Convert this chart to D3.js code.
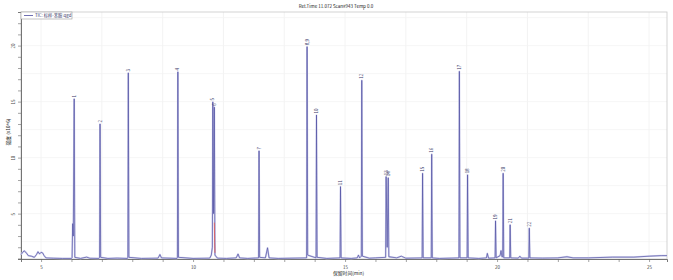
<!DOCTYPE html>
<html>
<head>
<meta charset="utf-8">
<script src="https://cdn.jsdelivr.net/npm/d3@7"></script>
<style>
  body { margin: 0; background: #fff; }
  text { font-family: "Noto Sans CJK SC", "DejaVu Sans", sans-serif; }
</style>
</head>
<body>
<div id="chart"></div>
<script>
// peaks (retention time in min, intensity x10^6)
const peakLabels = ["1", "2", "3", "4", "5", "6", "7", "8,9", "10", "11", "12", "13", "14", "15", "16", "17", "18", "19", "20", "21", "22"];
const peakTimes = [6.09, 6.94, 7.87, 9.50, 10.65, 10.70, 12.17, 13.75, 14.06, 14.85, 15.55, 16.35, 16.42, 17.55, 17.85, 18.76, 19.03, 19.95, 20.20, 20.43, 21.06];
const peakHeights = [15.24, 13.0, 17.56, 17.65, 14.97, 14.5, 10.6, 19.9, 13.8, 7.41, 16.9, 8.3, 8.2, 8.6, 10.3, 17.7, 8.46, 4.35, 8.6, 4.0, 3.7];

// TIC trace [time, intensity]
const trace = [
  [4.34, 1.35], [4.40, 1.55], [4.44, 1.68], [4.50, 1.55], [4.58, 1.25], [4.68, 1.2], [4.78, 1.1], [4.85, 1.35],
  [4.90, 1.6], [4.95, 1.4], [5.00, 1.55], [5.05, 1.5], [5.10, 1.25], [5.16, 1.05], [5.4, 1.02], [5.7, 1.0], [6.0, 1.0],
  [6.02, 1.05], [6.04, 4.1], [6.06, 3.0], [6.09, 15.24], [6.11, 1.1], [6.3, 1.0], [6.5, 1.12], [6.6, 1.02], [6.9, 1.0],
  [6.925, 1.1], [6.94, 13.0], [6.96, 1.1], [7.2, 1.0], [7.5, 1.03], [7.84, 1.0],
  [7.855, 1.1], [7.87, 17.56], [7.89, 1.1], [8.3, 1.0], [8.85, 1.03], [8.91, 1.35], [8.96, 1.05], [9.47, 1.0],
  [9.485, 1.1], [9.50, 17.65], [9.52, 1.1], [10.0, 1.0], [10.55, 1.03], [10.6, 1.3],
  [10.635, 2.0], [10.65, 14.97], [10.675, 5.0], [10.70, 14.5], [10.72, 1.3], [10.8, 1.03], [11.1, 1.0],
  [11.42, 1.05], [11.48, 1.4], [11.53, 1.05], [11.8, 1.0], [12.155, 1.05],
  [12.17, 10.6], [12.19, 1.1], [12.38, 1.05], [12.45, 1.95], [12.50, 1.05], [12.8, 1.0], [13.735, 1.05],
  [13.75, 19.9], [13.77, 1.3], [14.045, 1.05], [14.06, 13.8], [14.08, 1.1], [14.4, 1.0], [14.835, 1.05],
  [14.85, 7.41], [14.87, 1.05], [15.2, 1.0], [15.4, 1.05], [15.44, 1.3], [15.48, 1.05], [15.535, 1.2],
  [15.55, 16.9], [15.57, 1.2], [15.8, 1.02], [16.0, 1.05], [16.335, 1.1], [16.35, 8.3], [16.385, 2.0],
  [16.42, 8.2], [16.44, 1.15], [16.7, 1.05], [16.85, 1.2], [17.0, 1.02], [17.535, 1.05], [17.55, 8.6], [17.57, 1.05],
  [17.835, 1.05], [17.85, 10.3], [17.87, 1.05], [18.1, 1.0], [18.745, 1.05], [18.76, 17.7], [18.78, 1.05],
  [19.015, 1.05], [19.03, 8.46], [19.05, 1.05], [19.4, 1.0], [19.65, 1.05], [19.68, 1.45], [19.72, 1.02],
  [19.935, 1.05], [19.95, 4.35], [19.97, 1.05], [20.1, 1.25], [20.13, 1.7], [20.16, 1.15], [20.185, 1.15],
  [20.20, 8.6], [20.22, 1.05], [20.415, 1.05], [20.43, 4.0], [20.45, 1.05], [20.7, 1.03], [20.75, 1.2], [20.8, 1.03],
  [21.045, 1.03], [21.06, 3.7], [21.08, 1.05], [21.5, 1.03], [22.0, 1.05], [22.3, 1.15], [22.5, 1.05], [23.0, 1.05],
  [23.8, 1.12], [24.5, 1.12], [25.0, 1.2], [25.4, 1.25], [25.59, 1.25]
];

// red marker segment on peak 6
const marker = [[10.70, 4.2], [10.71, 2.4], [10.72, 1.5]];

const xLabelTicks = [5, 10, 15, 20, 25];
const yLabelTicks = [5, 10, 15, 20];

const W = 673, H = 280;
const margin = { top: 12, right: 6, bottom: 21, left: 21 },
      width = W - margin.left - margin.right,
      height = H - margin.top - margin.bottom;

const svg = d3.select("#chart").append("svg").attr("width", W).attr("height", H);
const g = svg.append("g").attr("transform", `translate(${margin.left},${margin.top})`);

const x = d3.scaleLinear().domain([4.34, 25.59]).range([0, width]);
const y = d3.scaleLinear().domain([0.95, 23]).range([height, 0]);

// grid
g.append("g").selectAll("line").data(d3.range(5, 26, 2)).join("line")
  .attr("x1", d => x(d)).attr("x2", d => x(d)).attr("y1", 0).attr("y2", height)
  .attr("stroke", "#eeeeee").attr("stroke-width", 0.7);
g.append("g").selectAll("line").data(d3.range(2.5, 23, 2.5)).join("line")
  .attr("x1", 0).attr("x2", width).attr("y1", d => y(d)).attr("y2", d => y(d))
  .attr("stroke", "#f2f2f2").attr("stroke-width", 0.7);

// frame
g.append("rect").attr("width", width).attr("height", height)
  .attr("fill", "none").attr("stroke", "#c8c8c8").attr("stroke-width", 0.8);

// axes
const xAxis = g.append("g").attr("transform", `translate(0,${height})`)
  .call(d3.axisBottom(x).tickValues(d3.range(5, 26, 1)).tickSize(3)
    .tickFormat(d => xLabelTicks.includes(d) ? d : ""));
const yAxis = g.append("g")
  .call(d3.axisLeft(y).tickValues(d3.range(1, 23, 1)).tickSize(3)
    .tickFormat(d => yLabelTicks.includes(d) ? d : ""));
[xAxis, yAxis].forEach(a => {
  a.select(".domain").attr("stroke", "#555").attr("stroke-width", 0.8);
  a.selectAll(".tick line").attr("stroke", "#666").attr("stroke-width", 0.6);
  a.selectAll("text").attr("font-size", 4.5).attr("fill", "#444");
});
xAxis.selectAll("text").attr("dy", "0.9em");
yAxis.selectAll(".tick text").each(function () {
  d3.select(this).attr("x", 0).attr("y", 0).attr("dy", 0).attr("text-anchor", "middle")
    .attr("transform", "translate(-6.5,0) rotate(-90)");
});

// trace
const line = d3.line().x(d => x(d[0])).y(d => y(d[1]));
g.append("path").datum(trace).attr("fill", "none").attr("stroke", "#d2d2ee")
  .attr("stroke-width", 1.8).attr("stroke-linejoin", "round").attr("d", line);
g.append("path").datum(trace).attr("fill", "none").attr("stroke", "#5252a4")
  .attr("stroke-width", 0.7).attr("stroke-linejoin", "round").attr("d", line);
g.append("path").datum(marker).attr("fill", "none").attr("stroke", "#e06060")
  .attr("stroke-width", 0.9).attr("d", line);

// peak labels
g.append("g").selectAll("text").data(peakLabels).join("text")
  .attr("transform", (d, i) => `translate(${x(peakTimes[i]) + 1.5},${y(peakHeights[i]) - 1.5}) rotate(-90)`)
  .attr("font-size", 4.5).attr("fill", "#333366").text(d => d);

// legend
const lg = g.append("g");
lg.append("rect").attr("x", 0).attr("y", 0).attr("width", 51).attr("height", 7)
  .attr("fill", "#fff").attr("stroke", "#999").attr("stroke-width", 0.6);
lg.append("line").attr("x1", 3).attr("x2", 12).attr("y1", 3.5).attr("y2", 3.5)
  .attr("stroke", "#4b4b9e").attr("stroke-width", 0.8);
lg.append("text").attr("x", 14).attr("y", 5).attr("font-size", 4.3).attr("fill", "#333366")
  .text("TIC: 标样-苯胺.qgd");

// title and axis titles
svg.append("text").attr("x", 336).attr("y", 8).attr("text-anchor", "middle")
  .attr("font-size", 4.5).attr("fill", "#222").text("Ret.Time 11.072 Scan#943 Temp 0.0");
svg.append("text").attr("x", 333).attr("y", 275)
  .attr("font-size", 4.8).attr("fill", "#222").text("保留时间(min)");
svg.append("text").attr("transform", "translate(10,132) rotate(-90)").attr("text-anchor", "middle")
  .attr("font-size", 4.8).attr("fill", "#222").text("强度 (x10^6)");
</script>
</body>
</html>
